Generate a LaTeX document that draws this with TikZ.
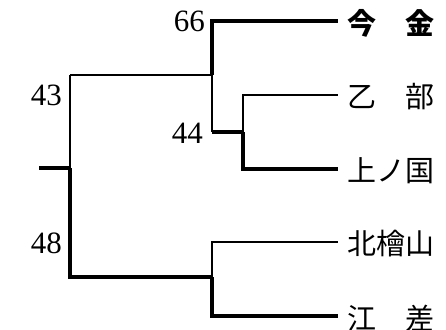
\documentclass[tikz,border=0pt]{standalone}
\usepackage{fontspec}
\setmainfont{Liberation Serif}
\newfontfamily\jp{Noto Sans CJK JP}
\begin{document}
\begin{tikzpicture}[x=1pt,y=-1pt,
  thk/.style={line width=3.3pt},
  thn/.style={line width=1.8pt},
  mid/.style={line width=2.4pt},
  num/.style={font=\fontsize{31}{31}\selectfont, inner sep=0pt, anchor=east},
  leaf/.style={font=\jp\fontsize{29}{29}\selectfont, inner sep=0pt, anchor=west}]
\useasboundingbox (0,0) rectangle (446,329);
% coordinates
\coordinate (s) at (39,168);
\coordinate (r) at (70,168);
\coordinate (ru) at (70,75);
\coordinate (rd) at (70,277);
\coordinate (u) at (212,75);
\coordinate (ut) at (212,21);
\coordinate (ub) at (212,132);
\coordinate (v) at (243,132);
\coordinate (vt) at (243,95);
\coordinate (vb) at (243,169);
\coordinate (w) at (212,277);
\coordinate (wt) at (212,242);
\coordinate (wb) at (212,316);
\coordinate (e1) at (338,21);
\coordinate (e2) at (338,95);
\coordinate (e3) at (338,169);
\coordinate (e4) at (338,242);
\coordinate (e5) at (338,316);
% leaf labels
\node[leaf] (l1) at (347,23) {\bfseries 今　金};
\node[leaf] (l2) at (347,97) {乙　部};
\node[leaf] (l3) at (347,171) {上ノ国};
\node[leaf] (l4) at (347,244) {北檜山};
\node[leaf] (l5) at (347,318) {江　差};
% numbers
\node[num] (n66) at (205,21) {66};
\node[num] (n43) at (62,95) {43};
\node[num] (n44) at (203,133) {44};
\node[num] (n48) at (62,243) {48};
% tree
\draw[thk] (s) -- (r);
\draw[thn] (r) -- (ru);
\draw[mid] (ru) -- (u);
\draw[thk] (r) -- (rd) -- (w);
\draw[thk] (u) -- (ut) -- (e1);
\draw[thn] (u) -- (ub);
\draw[thk] (ub) -- (v);
\draw[thn] (v) -- (vt) -- (e2);
\draw[thk] (v) -- (vb) -- (e3);
\draw[thn] (w) -- (wt) -- (e4);
\draw[thk] (w) -- (wb) -- (e5);
\end{tikzpicture}
\end{document}
